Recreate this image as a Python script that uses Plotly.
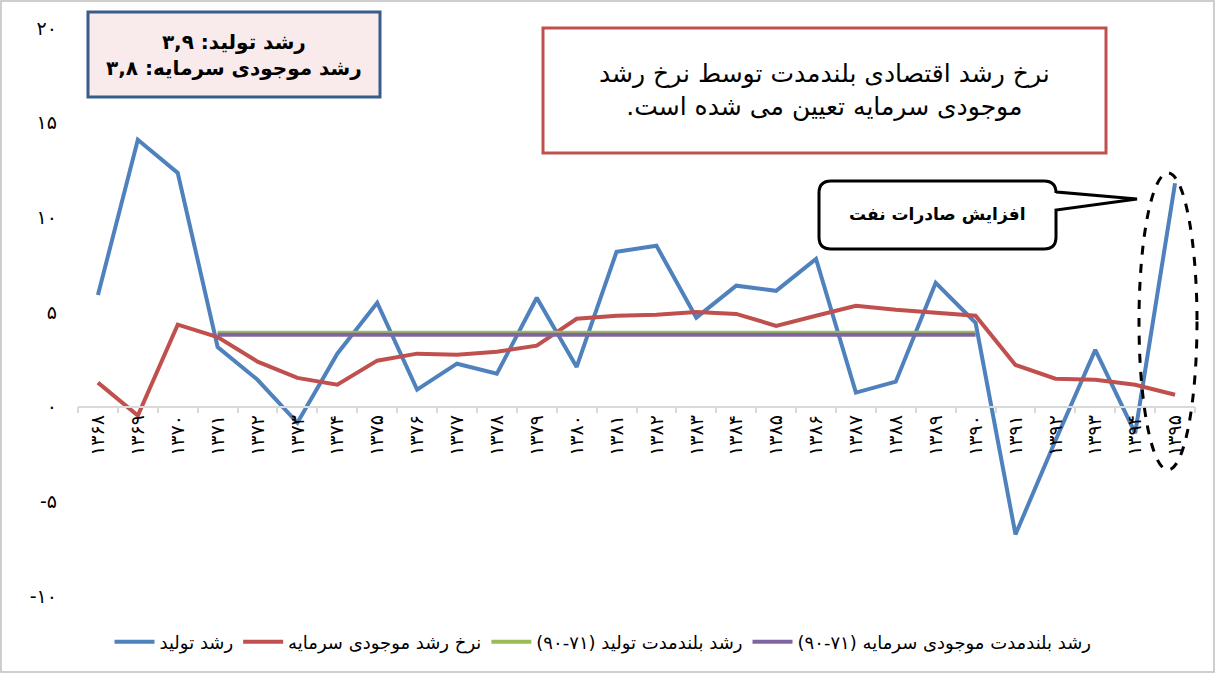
import plotly.graph_objects as go

FA = str.maketrans("0123456789", "۰۱۲۳۴۵۶۷۸۹")


def fa(s):
    return str(s).translate(FA)


years = [fa(y) for y in range(1368, 1396)]

growth = [5.9, 14.1, 12.35, 3.15, 1.42, -0.85, 2.8, 5.49, 0.9, 2.27, 1.74, 5.75, 2.1,
          8.18, 8.5, 4.7, 6.39, 6.12, 7.8, 0.74, 1.32, 6.54, 4.43, -6.75, -1.8, 3.0,
          -1.4, 11.8]
capital = [1.27, -0.47, 4.33, 3.68, 2.38, 1.52, 1.16, 2.43, 2.8, 2.74, 2.9, 3.22, 4.64,
           4.8, 4.85, 5.0, 4.9, 4.27, 4.8, 5.33, 5.12, 4.96, 4.8, 2.2, 1.48, 1.42,
           1.16, 0.63]
lr_growth = [None] * 3 + [3.9] * 20 + [None] * 5
lr_capital = [None] * 3 + [3.8] * 20 + [None] * 5

names = ["رشد تولید", "نرخ رشد موجودی سرمایه",
         "رشد بلندمدت تولید (۷۱-۹۰)", "رشد بلندمدت موجودی سرمایه (۷۱-۹۰)"]
colors = ["#4F81BD", "#C0504D", "#9BBB59", "#8064A2"]
series = [growth, capital, lr_growth, lr_capital]

ytick_vals = [-10, -5, 0, 5, 10, 15, 20]
ytick_text = [fa(v) if v >= 0 else "-" + fa(-v) for v in ytick_vals]

W, H = 1216, 686
L, R, T, B = 78, 21, 28, 90
PW, PH = W - L - R, H - T - B


def px(x):
    return (x - L) / PW


def py(y):
    return (H - B - y) / PH


FONT = "DejaVu Sans"

fig = go.Figure()
for name, col, vals in zip(names, colors, series):
    fig.add_trace(go.Scatter(x=years, y=vals, name=name, mode="lines",
                             line=dict(color=col, width=4), connectgaps=False))

shapes = []
# outer border
shapes.append(dict(type="rect", xref="paper", yref="paper",
                   x0=px(1), x1=px(1214), y0=py(672), y1=py(1),
                   line=dict(color="#BFBFBF", width=1.5), layer="below"))
# info box
shapes.append(dict(type="rect", xref="paper", yref="paper",
                   x0=px(88), x1=px(380), y0=py(97), y1=py(12),
                   fillcolor="#F9EBEB", line=dict(color="#385D8A", width=3)))
# big text box
shapes.append(dict(type="rect", xref="paper", yref="paper",
                   x0=px(543), x1=px(1106), y0=py(153), y1=py(28),
                   fillcolor="white", line=dict(color="#C0504D", width=3)))

# callout with rounded corners and tail
bx0, bx1, by0, by1, r = 819, 1056, 181, 249, 12
pts = [
    f"M {px(bx0 + r)},{py(by0)}",
    f"L {px(bx1 - r)},{py(by0)}",
    f"Q {px(bx1)},{py(by0)} {px(bx1)},{py(by0 + r)}",
    f"L {px(bx1)},{py(192)}",
    f"L {px(1137)},{py(199)}",
    f"L {px(bx1)},{py(210)}",
    f"L {px(bx1)},{py(by1 - r)}",
    f"Q {px(bx1)},{py(by1)} {px(bx1 - r)},{py(by1)}",
    f"L {px(bx0 + r)},{py(by1)}",
    f"Q {px(bx0)},{py(by1)} {px(bx0)},{py(by1 - r)}",
    f"L {px(bx0)},{py(by0 + r)}",
    f"Q {px(bx0)},{py(by0)} {px(bx0 + r)},{py(by0)}",
    "Z",
]
shapes.append(dict(type="path", xref="paper", yref="paper", path=" ".join(pts),
                   fillcolor="white", line=dict(color="black", width=3)))
# dashed ellipse
shapes.append(dict(type="circle", xref="paper", yref="paper",
                   x0=px(1139), x1=px(1197), y0=py(470), y1=py(173),
                   line=dict(color="black", width=3, dash="dash")))

annotations = [
    dict(xref="paper", yref="paper", x=px(234), y=py(55),
         text="<b>رشد تولید: ۳,۹</b><br><b>رشد موجودی سرمایه: ۳,۸</b>",
         showarrow=False, font=dict(family=FONT, size=20, color="black"),
         align="center", xanchor="center", yanchor="middle"),
    dict(xref="paper", yref="paper", x=px(824), y=py(90),
         text="نرخ رشد اقتصادی بلندمدت توسط نرخ رشد<br>موجودی سرمایه تعیین می شده است.\u200f",
         showarrow=False, font=dict(family=FONT, size=25, color="black"),
         align="center", xanchor="center", yanchor="middle"),
    dict(xref="paper", yref="paper", x=px(937), y=py(215),
         text="<b>افزایش صادرات نفت</b>",
         showarrow=False, font=dict(family=FONT, size=17, color="black"),
         xanchor="center", yanchor="middle"),
]

fig.update_layout(
    width=W, height=H,
    margin=dict(l=L, r=R, t=T, b=B),
    paper_bgcolor="white", plot_bgcolor="white",
    font=dict(family=FONT, color="black"),
    shapes=shapes,
    annotations=annotations,
    showlegend=True,
    legend=dict(orientation="h", x=0.47, xanchor="center", y=py(642),
                yanchor="middle", font=dict(family=FONT, size=18, color="black"),
                itemwidth=40, tracegroupgap=0),
    xaxis=dict(type="category", anchor="free", position=1 / 3,
               showline=True, linecolor="#D9D9D9", linewidth=1.5,
               ticks="outside", tickson="boundaries", ticklen=6,
               tickcolor="#D9D9D9", tickwidth=1.5,
               tickangle=-90, tickfont=dict(family=FONT, size=19, color="black"),
               showgrid=False, zeroline=False, range=[-0.5, 27.5]),
    yaxis=dict(range=[-10, 20], domain=[0, 1], tickvals=ytick_vals,
               ticktext=ytick_text, showgrid=False, zeroline=False,
               showline=False, ticks="", ticklabelstandoff=20,
               tickfont=dict(family=FONT, size=19, color="black")),
)

fig.write_html("out.html")
